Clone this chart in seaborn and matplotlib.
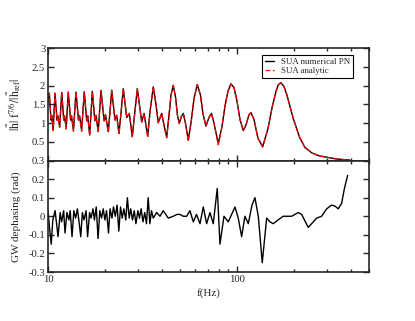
import matplotlib
matplotlib.use("Agg")
from matplotlib import pyplot as plt
from matplotlib.ticker import FixedLocator, NullFormatter
import seaborn as sns

# |h| f^(7/6)/|h_ref| against f (Hz)
freq_top = [10.0, 10.16, 10.37, 10.46, 10.65, 10.89, 11.16, 11.27, 11.52, 11.82,
            12.11, 12.23, 12.48, 12.80, 13.17, 13.31, 13.64, 14.06, 14.50, 14.68,
            15.06, 15.56, 16.02, 16.22, 16.62, 17.16, 17.70, 17.95, 18.43, 19.07,
            19.83, 20.15, 20.85, 21.73, 22.62, 23.09, 23.75, 25.03, 26.09, 26.93,
            27.93, 29.69, 31.32, 32.22, 33.70, 34.65, 36.07, 37.28, 38.33, 39.96,
            41.10, 42.46, 43.67, 44.75, 46.03, 47.28, 48.45, 49.51, 50.85, 51.99,
            53.40, 55.25, 57.10, 59.23, 61.66, 64.11, 66.09, 68.55, 71.10, 73.30,
            75.56, 79.62, 83.28, 86.38, 89.61, 92.96, 96.41, 100.0, 103.7, 108.0,
            111.6, 115.7, 118.6, 123.0, 129.1, 136.8, 145.9, 153.2, 160.9, 165.8,
            170.9, 177.3, 183.9, 190.8, 197.9, 207.0, 215.4, 228.9, 249.4, 274.9,
            337.0, 396.2]
amp_numerical = [1.55, 1.80, 1.08, 1.20, 0.83, 1.80, 1.08, 1.20, 0.90, 1.82,
                 1.08, 1.20, 0.86, 1.83, 1.08, 1.20, 0.81, 1.83, 1.08, 1.20,
                 0.81, 1.84, 1.06, 1.20, 0.68, 1.85, 1.06, 1.21, 0.77, 1.87,
                 1.06, 1.22, 0.77, 1.88, 1.08, 1.21, 0.72, 1.92, 1.15, 1.26,
                 0.65, 1.92, 1.03, 1.26, 0.65, 1.30, 1.97, 1.50, 1.01, 1.26,
                 0.95, 0.62, 1.20, 1.75, 2.01, 1.70, 1.20, 0.99, 1.18, 1.26,
                 1.00, 0.55, 1.00, 1.65, 2.03, 1.75, 1.25, 0.92, 1.15, 1.26,
                 1.00, 0.46, 0.90, 1.45, 1.85, 2.05, 1.95, 1.60, 1.10, 0.80,
                 0.95, 1.22, 1.28, 1.10, 0.60, 0.37, 0.85, 1.40, 1.85, 2.03,
                 2.08, 1.98, 1.75, 1.45, 1.15, 0.85, 0.60, 0.35, 0.20, 0.12,
                 0.04, 0.01]
amp_analytic = [1.55, 1.80, 1.08, 1.20, 0.80, 1.80, 1.08, 1.20, 0.88, 1.82,
                1.08, 1.20, 0.84, 1.83, 1.08, 1.20, 0.78, 1.83, 1.08, 1.20,
                0.78, 1.84, 1.06, 1.20, 0.66, 1.85, 1.06, 1.21, 0.74, 1.87,
                1.06, 1.22, 0.74, 1.88, 1.08, 1.21, 0.70, 1.92, 1.15, 1.26,
                0.63, 1.92, 1.03, 1.26, 0.62, 1.30, 1.97, 1.50, 1.01, 1.26,
                0.95, 0.60, 1.20, 1.75, 2.01, 1.70, 1.20, 0.99, 1.18, 1.26,
                1.00, 0.52, 1.00, 1.65, 2.03, 1.75, 1.25, 0.92, 1.15, 1.26,
                1.00, 0.42, 0.90, 1.45, 1.85, 2.05, 1.95, 1.60, 1.10, 0.80,
                0.95, 1.22, 1.28, 1.10, 0.60, 0.36, 0.85, 1.40, 1.85, 2.03,
                2.08, 1.98, 1.75, 1.45, 1.15, 0.85, 0.60, 0.35, 0.20, 0.12,
                0.04, 0.01]

# GW dephasing (rad) against f (Hz)
freq_phase = [10.0, 10.2, 10.4, 10.6, 10.9, 11.1, 11.3, 11.6, 11.8, 12.1,
              12.3, 12.6, 12.9, 13.1, 13.4, 13.7, 14.0, 14.3, 14.6, 14.9,
              15.2, 15.5, 15.9, 16.2, 16.6, 16.9, 17.3, 17.6, 18.0, 18.4,
              18.8, 19.2, 19.6, 20.0, 20.4, 20.9, 21.3, 21.8, 22.2, 22.7,
              23.2, 23.7, 24.2, 24.7, 25.2, 25.8, 26.3, 26.9, 27.4, 28.0,
              28.6, 29.2, 29.9, 30.5, 31.1, 31.8, 32.5, 33.2, 33.9, 34.6,
              35.29, 36.07, 37.59, 39.14, 40.74, 43.31, 46.03, 48.15, 49.94, 51.99,
              54.19, 56.39, 58.73, 61.06, 63.73, 66.33, 69.12, 71.96, 74.92, 78.66,
              81.29, 85.36, 89.95, 97.59, 101.6, 105.9, 110.2, 114.8, 120.1, 124.5,
              129.7, 136.1, 143.6, 149.5, 155.6, 164.8, 175.8, 186.8, 194.7, 211.0,
              219.9, 238.4, 264.1, 280.6, 298.3, 317.0, 330.0, 343.6, 358.1, 370.6,
              385.3]
dephasing = [0.03, -0.07, -0.15, -0.02, 0.03, -0.04, -0.11, 0.02, -0.03, 0.03,
             -0.09, 0.02, -0.02, 0.03, -0.11, 0.03, -0.01, 0.04, -0.03, -0.11,
             0.02, -0.02, 0.03, -0.11, 0.02, -0.01, 0.04, -0.02, 0.05, -0.12,
             0.03, -0.01, 0.04, -0.02, 0.03, -0.09, 0.04, -0.01, 0.05, 0.00,
             0.06, -0.08, 0.05, -0.01, 0.04, -0.02, 0.10, -0.01, 0.04, -0.02,
             0.03, -0.04, 0.03, -0.01, 0.04, -0.03, 0.02, -0.04, 0.10, -0.04,
             0.03, -0.01, 0.02, 0.00, 0.03, -0.01, 0.00, 0.01, 0.01, 0.00,
             0.00, 0.03, -0.03, 0.01, -0.04, 0.05, -0.04, 0.02, -0.04, 0.15,
             -0.15, 0.00, -0.03, 0.05, -0.01, -0.11, 0.00, -0.04, 0.06, 0.10,
             0.00, -0.25, -0.01, -0.03, -0.04, -0.02, 0.00, 0.00, 0.00, 0.02,
             0.01, -0.06, -0.01, 0.00, 0.04, 0.06, 0.055, 0.04, 0.07, 0.15,
             0.22]

sns.set_style("ticks")
plt.rcParams['font.family'] = ['Liberation Serif', 'DejaVu Serif']
plt.rcParams['mathtext.fontset'] = 'stix'
plt.rcParams['axes.linewidth'] = 1.2

fig = plt.figure(figsize=(4.15, 3.21), dpi=100)
ax1 = fig.add_axes([0.1157, 0.5, 0.7735, 0.3495])
ax2 = fig.add_axes([0.1157, 0.1526, 0.7735, 0.3474])

sns.lineplot(x=freq_top, y=amp_numerical, ax=ax1, color='black', lw=1.0,
             label='SUA numerical PN', estimator=None, sort=False)
sns.lineplot(x=freq_top, y=amp_analytic, ax=ax1, color='red', lw=0.9,
             linestyle=(0, (4, 2)), label='SUA analytic', estimator=None, sort=False)
sns.lineplot(x=freq_phase, y=dephasing, ax=ax2, color='black', lw=1.0,
             estimator=None, sort=False)

major_x = [10, 100]
minor_x = [20, 30, 40, 50, 60, 70, 80, 90, 200, 300, 400, 500]
for ax in (ax1, ax2):
    ax.set_xscale('log')
    ax.set_xlim(10, 500)
    ax.xaxis.set_major_locator(FixedLocator(major_x))
    ax.xaxis.set_minor_locator(FixedLocator(minor_x))
    ax.xaxis.set_minor_formatter(NullFormatter())
    ax.tick_params(which='both', direction='in', top=True, right=True,
                   labelsize=7.7, pad=2, width=1)
    ax.tick_params(which='major', length=4)
    ax.tick_params(which='minor', length=2.5)
    for s in ax.spines.values():
        s.set_linewidth(1.2)

ax1.set_ylim(0, 3)
ax1.set_yticks([0, 0.5, 1, 1.5, 2, 2.5, 3])
ax1.set_yticklabels(['', '0.5', '1', '1.5', '2', '2.5', '3'])
ax1.set_xticklabels([])
ax1.set_xlabel('')
ax1.set_ylabel(r'$|\tilde{\mathrm{h}}|\ \mathrm{f}^{7/6}/|\tilde{\mathrm{h}}_{\mathrm{ref}}|$',
               fontsize=8.5)
ax1.yaxis.set_label_coords(-0.078, 0.5)

ax2.set_ylim(-0.3, 0.3)
ax2.set_yticks([-0.3, -0.2, -0.1, 0, 0.1, 0.2, 0.3])
ax2.set_yticklabels(['-0.3', '-0.2', '-0.1', '0', '0.1', '0.2', '0.3'])
ax2.set_xticklabels(['10', '100'])
ax2.set_xlabel('f(Hz)', fontsize=8, labelpad=3)
ax2.set_ylabel('GW dephasing (rad)', fontsize=8)
ax2.yaxis.set_label_coords(-0.085, 0.5)

leg = ax1.legend(loc='upper right', bbox_to_anchor=(0.95, 0.94), borderaxespad=0,
                 fontsize=6.4, handlelength=1.0, handletextpad=0.8, fancybox=False,
                 framealpha=1, borderpad=0.3, labelspacing=0.15)
leg.get_frame().set_edgecolor('black')
leg.get_frame().set_linewidth(0.8)

plt.savefig('out.png', dpi=100)
plt.close()
